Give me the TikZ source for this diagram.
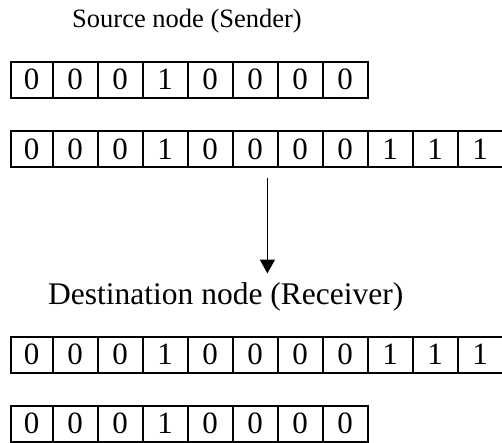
\documentclass[tikz,border=0pt]{standalone}
\usepackage{fontspec}
\setmainfont{Liberation Serif}
\usetikzlibrary{arrows.meta, positioning}

\begin{document}
\begin{tikzpicture}[
    x=1pt, y=-1pt,
    cell/.style={rectangle, draw=black, line width=2pt, minimum width=45pt,
                 minimum height=36pt, inner sep=0pt, outer sep=0pt,
                 font=\fontsize{31}{31}\selectfont},
    firstcell/.style={cell, minimum width=42pt},
    title/.style={inner sep=0pt, anchor=base west},
    arrow/.style={-{Triangle[width=15pt, length=14pt]}, line width=1.8pt}
]
\useasboundingbox (0,0) rectangle (502,442);

% Sender side
\node[title, font=\fontsize{26.5}{30}\selectfont] (sender) at (72,27.5) {Source node (Sender)};

\node[firstcell] (msg1) at (31.7,79.7) {0};
\foreach \b [count=\i from 2] in {0,0,1,0,0,0,0}
    \node[cell] (msg\i) at ({75.2+45*(\i-2)},79.7) {\b};

\node[firstcell] (crc1) at (31.7,149) {0};
\foreach \b [count=\i from 2] in {0,0,1,0,0,0,0,1,1,1}
    \node[cell] (crc\i) at ({75.2+45*(\i-2)},149) {\b};

% Transmission
\coordinate (txstart) at (267.4,177.5);
\coordinate (txend) at (267.4,273.5);
\draw[arrow] (txstart) -- (txend);

% Receiver side
\node[title, font=\fontsize{31.5}{34}\selectfont] (receiver) at (48,304.5) {Destination node (Receiver)};

\node[firstcell] (rcv1) at (31.7,354.7) {0};
\foreach \b [count=\i from 2] in {0,0,1,0,0,0,0,1,1,1}
    \node[cell] (rcv\i) at ({75.2+45*(\i-2)},354.7) {\b};

\node[firstcell] (out1) at (31.7,423.5) {0};
\foreach \b [count=\i from 2] in {0,0,1,0,0,0,0}
    \node[cell] (out\i) at ({75.2+45*(\i-2)},423.5) {\b};

\end{tikzpicture}
\end{document}
